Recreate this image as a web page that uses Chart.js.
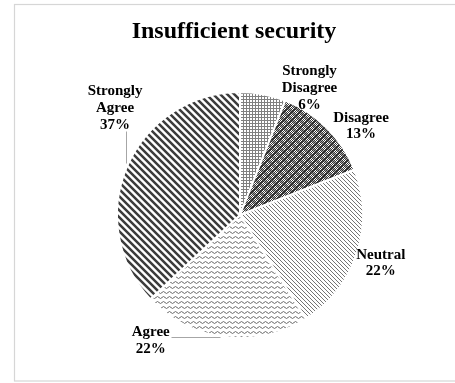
<!DOCTYPE html>
<html>
<head>
<meta charset="utf-8">
<script src="https://cdn.jsdelivr.net/npm/chart.js@4.4.0/dist/chart.umd.min.js"></script>
<style>
  body { margin: 0; background: #fff; }
  canvas { display: block; }
</style>
</head>
<body>
<canvas id="myChart" width="455" height="383"></canvas>
<script>
// data
var chartTitle = 'Insufficient security';
var categories = ['Strongly Disagree', 'Disagree', 'Neutral', 'Agree', 'Strongly Agree'];
var percents = [6, 13, 22, 22, 37];

// label placement, in units of the pie radius from its centre
var labelPos = [[0.565, -1.03], [0.984, -0.722], [1.145, 0.391], [-0.726, 1.02], [-1.016, -0.871]];
// leader lines (only for the two labels that have one)
var leaders = [null, null, null, [[-0.565, 0.992], [-0.161, 0.992]], [[-0.927, -0.685], [-0.927, -0.419]]];

var ctx = document.getElementById('myChart').getContext('2d');

function makePattern(w, h, draw) {
	var c = document.createElement('canvas');
	c.width = w;
	c.height = h;
	var g = c.getContext('2d');
	g.fillStyle = '#fff';
	g.fillRect(0, 0, w, h);
	draw(g, w, h);
	return ctx.createPattern(c, 'repeat');
}

function backslash(g, s, color, lw) {
	g.strokeStyle = color;
	g.lineWidth = lw;
	g.beginPath();
	for (var k = -1; k <= 1; k++) {
		g.moveTo(k * s - 1, -1);
		g.lineTo(k * s + s + 1, s + 1);
	}
	g.stroke();
}

var patterns = [
	// fine grey stipple
	makePattern(3, 3, function(g) {
		g.fillStyle = '#808080';
		g.fillRect(0, 0, 3, 1);
		g.fillRect(0, 0, 1, 3);
	}),
	// dark lattice
	makePattern(8, 8, function(g) {
		g.fillStyle = '#333';
		for (var y = 0; y < 8; y++) {
			for (var x = 0; x < 8; x++) {
				if ((x + y) % 2 == 0) g.fillRect(x, y, 1, 1);
			}
		}
		g.strokeStyle = '#333';
		g.lineWidth = 1.3;
		g.beginPath();
		g.moveTo(0, 4); g.lineTo(4, 0); g.lineTo(8, 4); g.lineTo(4, 8); g.closePath();
		g.stroke();
	}),
	// thin diagonal lines
	makePattern(4, 4, function(g) {
		backslash(g, 4, '#747474', 1);
	}),
	// wavy lines
	makePattern(6, 5, function(g) {
		g.strokeStyle = '#6a6a6a';
		g.lineWidth = 1;
		g.beginPath();
		g.moveTo(0, 2.5);
		g.quadraticCurveTo(1.5, 0.5, 3, 2.5);
		g.quadraticCurveTo(4.5, 4.5, 6, 2.5);
		g.stroke();
	}),
	// thick dark diagonal stripes
	makePattern(7, 7, function(g) {
		backslash(g, 7, '#3c3c3c', 2.5);
	})
];

var labelPlugin = {
	id: 'sliceLabels',
	beforeDraw: function(chart) {
		var c = chart.ctx;
		c.save();
		c.strokeStyle = '#d6d6d6';
		c.lineWidth = 1.2;
		c.strokeRect(14.5, 4.5, 470, 376.5);
		c.restore();
	},
	afterDraw: function(chart) {
		var c = chart.ctx;
		var arcs = chart.getDatasetMeta(0).data;
		var cx = arcs[0].x, cy = arcs[0].y, r = arcs[0].outerRadius;
		c.save();
		c.fillStyle = '#000';
		c.textAlign = 'center';
		c.textBaseline = 'middle';
		c.font = 'bold 24px "Liberation Serif"';
		c.fillText(chartTitle, 234, 32);

		c.strokeStyle = '#a6a6a6';
		c.lineWidth = 1;
		for (var i = 0; i < leaders.length; i++) {
			if (!leaders[i]) continue;
			c.beginPath();
			c.moveTo(Math.round(cx + leaders[i][0][0] * r) + 0.5, Math.round(cy + leaders[i][0][1] * r) + 0.5);
			c.lineTo(Math.round(cx + leaders[i][1][0] * r) + 0.5, Math.round(cy + leaders[i][1][1] * r) + 0.5);
			c.stroke();
		}

		c.font = 'bold 15px "Liberation Serif"';
		var lh = 16.8;
		for (var i = 0; i < categories.length; i++) {
			var lines = categories[i].split(' ');
			lines.push(percents[i] + '%');
			var x = cx + labelPos[i][0] * r;
			var y0 = cy + labelPos[i][1] * r - (lines.length - 1) * lh / 2;
			for (var j = 0; j < lines.length; j++) {
				c.fillText(lines[j], x, y0 + j * lh);
			}
		}
		c.restore();
	}
};

var chart = new Chart(ctx, {
	type: 'pie',
	data: {
		labels: categories,
		datasets: [{
			data: percents,
			backgroundColor: patterns,
			borderColor: '#ffffff',
			borderWidth: 2
		}]
	},
	options: {
		responsive: false,
		animation: false,
		devicePixelRatio: 1,
		layout: { padding: { left: 116, right: 91, top: 91, bottom: 44 } },
		plugins: {
			legend: { display: false },
			tooltip: { enabled: false },
			title: { display: false }
		}
	},
	plugins: [labelPlugin]
});
</script>
</body>
</html>
